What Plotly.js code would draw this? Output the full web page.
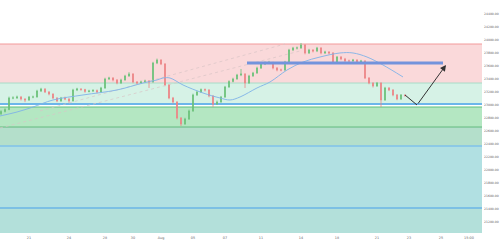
<!DOCTYPE html>
<html><head><meta charset="utf-8">
<script src="https://cdn.plot.ly/plotly-3.0.1.min.js"></script>
<style>html,body{margin:0;padding:0;background:#fff;}#chart{width:500px;height:243px;}</style>
</head><body><div id="chart"></div>
<script>
// ---- data ----
const opens = [22860,22896,22927,23104,23104,23119,23088,23073,23119,23119,23211,23242,23196,23165,23104,23058,23104,23088,23058,23227,23242,23234,23204,23211,23219,23196,23258,23396,23411,23381,23334,23381,23442,23473,23350,23334,23350,23365,23350,23642,23688,23627,23304,23104,23042,22796,22704,22781,22904,23150,23196,23234,23227,23135,23011,23042,23119,23273,23358,23396,23457,23473,23334,23442,23488,23565,23627,23642,23650,23565,23534,23534,23657,23842,23873,23873,23919,23796,23842,23827,23873,23796,23811,23796,23657,23734,23704,23673,23673,23688,23657,23673,23411,23334,23288,23334,23073,23258,23227,23150,23088,23150];
const highs = [22915,22945,23125,23130,23140,23135,23100,23135,23140,23230,23260,23255,23210,23175,23115,23120,23125,23100,23245,23260,23255,23245,23230,23240,23235,23275,23415,23430,23425,23395,23400,23460,23500,23485,23365,23370,23385,23380,23660,23710,23700,23640,23320,23120,23055,22810,22800,22925,23170,23215,23250,23250,23240,23145,23065,23135,23290,23375,23415,23475,23550,23485,23460,23505,23585,23645,23665,23675,23660,23580,23555,23675,23860,23890,23895,23950,23930,23860,23855,23890,23885,23830,23825,23810,23750,23750,23720,23695,23705,23700,23690,23685,23425,23345,23350,23345,23275,23270,23240,23165,23165,23160];
const lows = [22840,22880,22915,23085,23090,23065,23040,23060,23100,23110,23195,23180,23145,23085,23040,23045,23070,23030,23050,23210,23215,23185,23190,23195,23175,23185,23245,23380,23360,23315,23320,23370,23430,23330,23310,23320,23335,23258,23340,23625,23610,23285,23085,23020,22775,22673,22690,22765,22890,23135,23180,23205,23115,22965,22995,23030,23105,23260,23345,23385,23440,23258,23320,23430,23475,23550,23610,23625,23545,23515,23515,23520,23645,23825,23850,23860,23775,23780,23805,23810,23775,23780,23775,23640,23645,23685,23655,23655,23660,23640,23645,23395,23315,23265,23275,22965,23060,23210,23130,23070,23075,23125];
const closes = [22896,22927,23104,23104,23119,23088,23073,23119,23119,23211,23242,23196,23165,23104,23058,23104,23088,23058,23227,23242,23234,23204,23211,23219,23196,23258,23396,23411,23381,23334,23381,23442,23473,23350,23334,23350,23365,23350,23642,23688,23627,23304,23104,23042,22796,22704,22781,22904,23150,23196,23234,23227,23135,23011,23042,23119,23273,23358,23396,23457,23473,23334,23442,23488,23565,23627,23642,23650,23565,23534,23534,23657,23842,23873,23873,23919,23796,23842,23827,23873,23796,23811,23796,23657,23734,23704,23673,23673,23688,23657,23673,23411,23334,23288,23334,23073,23258,23227,23150,23088,23150,23140];

const maX = [-0.25,4,8,13,20.5,29,35.5,39,40.5,42.25,45.5,50.5,54.75,57.25,59.75,64,67.25,71.5,75.5,79.75,84.75,88,91.5,95.5,100.5];
const maY = [22827,22888,22965,23073,23150,23227,23334,23381,23411,23411,23304,23181,23104,23073,23119,23258,23350,23534,23657,23734,23796,23796,23734,23611,23427];

const trendLowX = [-0.25,74.75];
const trendLowY = [22642,23827];
const trendUpX = [9.75,71];
const trendUpY = [22904,23934];

const levelX = [61.5,110.5];
const levelY = [23642,23642];

const arrowX = [101,104,111.25];
const arrowY = [23150,22996,23611];

// zones: [bottom, top, fill]
const zoneBottoms = [23334,23011,22657,22365,21412,21027];
const zoneTops    = [23934,23334,22965,22657,22365,21412];
const zoneFills   = ['#fad9da','#d6f2e6','#b4e7c2','#b4dfcb','#b1e0e2','#b3e0da'];
const levelLines  = [23934,23334,23011,22965,22657,22365,21412];
const levelColors = ['#f29a9a','#a9dcc8','#6db6ea','#5fbf7c','#62b97f','#80c2ea','#6bb6e6'];
const levelWidths = [1,1,2,1,1,1.5,1.5];

const tickIdx = [7,17,26,33,40,48,56,65,75,84,94,102,110,117];
const tickLabels = ['21','24','28','30','Aug','05','07','11','14','18','21','23','25','15:00'];
const yTicks = [21200,21400,21600,21800,22000,22200,22400,22600,22800,23000,23200,23400,23600,23800,24000,24200,24400,24600];

const idx = closes.map((_, i) => i);

const shapes = [];
zoneBottoms.forEach((b, i) => {
  shapes.push({type:'rect', xref:'paper', yref:'y', x0:0, x1:1, y0:b, y1:zoneTops[i], fillcolor:zoneFills[i], line:{width:0}, layer:'below'});
});
levelLines.forEach((v, i) => {
  shapes.push({type:'line', xref:'paper', yref:'y', x0:0, x1:1, y0:v, y1:v, line:{color:levelColors[i], width:levelWidths[i]}, layer:'below'});
});

const traces = [
  {type:'scatter', mode:'lines', x:trendLowX, y:trendLowY, line:{color:'#d8c4c6', width:0.7, dash:'dot'}, hoverinfo:'skip'},
  {type:'scatter', mode:'lines', x:trendUpX, y:trendUpY, line:{color:'#d8c4c6', width:0.7, dash:'dot'}, hoverinfo:'skip'},
  {type:'scatter', mode:'lines', x:maX, y:maY, line:{color:'#7fb2e8', width:0.9, shape:'spline'}, hoverinfo:'skip'},
  {type:'scatter', mode:'lines', x:levelX, y:levelY, line:{color:'#7393dc', width:3}, hoverinfo:'skip'},
  {type:'candlestick', x:idx, open:opens, high:highs, low:lows, close:closes,
   increasing:{line:{color:'#6cc17a', width:0.8}, fillcolor:'#6cc17a'},
   decreasing:{line:{color:'#ec8587', width:0.8}, fillcolor:'#ec8587'},
   whiskerwidth:0, hoverinfo:'skip'},
  {type:'scatter', mode:'lines', x:arrowX.slice(0,2), y:arrowY.slice(0,2), line:{color:'#333', width:1}, hoverinfo:'skip'}
];

const layout = {
  width:500, height:243,
  margin:{l:0, r:18, t:0, b:10, pad:0},
  paper_bgcolor:'#ffffff', plot_bgcolor:'#ffffff',
  showlegend:false,
  boxgap:0.65,
  shapes: shapes,
  annotations:[{x:arrowX[2], y:arrowY[2], ax:arrowX[1], ay:arrowY[1], xref:'x', yref:'y', axref:'x', ayref:'y',
    showarrow:true, arrowhead:2, arrowsize:1.2, arrowwidth:1, arrowcolor:'#333', text:''}],
  xaxis:{range:[-0.25,120.25], rangeslider:{visible:false}, showgrid:false, zeroline:false, showline:false,
    tickmode:'array', tickvals:tickIdx, ticktext:tickLabels, ticks:'', ticklabelstandoff:2,
    tickfont:{family:'DejaVu Sans', size:3.4, color:'#666'}},
  yaxis:{range:[21027,24611], side:'right', showgrid:false, zeroline:false, showline:false,
    tickmode:'array', tickvals:yTicks, tickformat:'.2f', ticks:'', ticklabelstandoff:1,
    tickfont:{family:'DejaVu Sans', size:3.1, color:'#666'}}
};

Plotly.newPlot('chart', traces, layout, {displayModeBar:false, staticPlot:true});
</script>
</body></html>
